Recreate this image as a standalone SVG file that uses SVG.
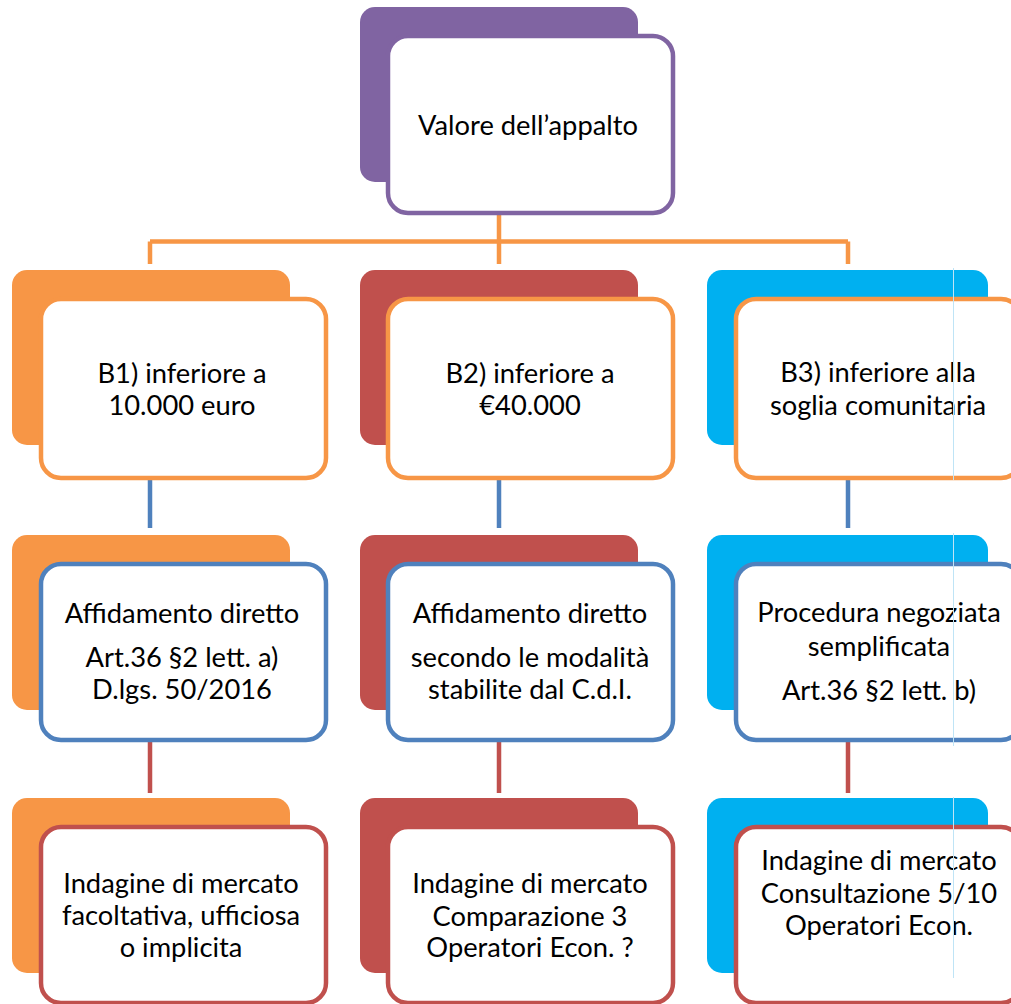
<svg xmlns="http://www.w3.org/2000/svg" width="1011" height="1004" viewBox="0 0 1011 1004">
<style>
.back{stroke:none}
.front{fill:#fff;stroke-width:4.5}
.t{font-family:Lato,"Liberation Sans",sans-serif;font-size:27.3px;fill:#000;text-anchor:middle}
.c{fill:none;stroke-width:4.5}
</style>
<rect width="1011" height="1004" fill="#fff"/>
<g id="connectors">
<path class="c" stroke="#F79646" d="M499 214V264M150 241.5H848M150 241.5V264M848 241.5V264"/>
<path class="c" stroke="#4F81BD" d="M150 478V528M499 478V528M848 478V528"/>
<path class="c" stroke="#C0504D" d="M150 741V793M499 741V793M848 741V793"/>
</g>
<g id="n0">
<rect class="back" x="360" y="7" width="278" height="175" rx="15" fill="#8064A2"/>
<rect class="front" x="388" y="36" width="285" height="177" rx="20" stroke="#8064A2"/>
<text class="t" x="528" y="135">Valore dell’appalto</text>
</g>
<g id="b1">
<rect class="back" x="12" y="270" width="278" height="175" rx="15" fill="#F79646"/>
<rect class="front" x="41" y="299" width="285" height="179" rx="20" stroke="#F79646"/>
<text class="t" x="182" y="383">B1) inferiore a</text>
<text class="t" x="182" y="415">10.000 euro</text>
</g>
<g id="b2">
<rect class="back" x="360" y="270" width="278" height="175" rx="15" fill="#C0504D"/>
<rect class="front" x="388" y="299" width="285" height="179" rx="20" stroke="#F79646"/>
<text class="t" x="530" y="383">B2) inferiore a</text>
<text class="t" x="530" y="415">€40.000</text>
</g>
<g id="b3">
<rect class="back" x="707" y="270" width="281" height="175" rx="15" fill="#00B0F0"/>
<rect class="front" x="736" y="299" width="285" height="179" rx="20" stroke="#F79646"/>
<text class="t" x="878" y="382">B3) inferiore alla</text>
<text class="t" x="878" y="415">soglia comunitaria</text>
</g>
<g id="a1">
<rect class="back" x="12" y="535" width="278" height="175" rx="15" fill="#F79646"/>
<rect class="front" x="41" y="564" width="285" height="176" rx="20" stroke="#4F81BD"/>
<text class="t" x="182" y="623">Affidamento diretto</text>
<text class="t" x="182" y="667">Art.36 §2 lett. a)</text>
<text class="t" x="182" y="699">D.lgs. 50/2016</text>
</g>
<g id="a2">
<rect class="back" x="360" y="535" width="278" height="175" rx="15" fill="#C0504D"/>
<rect class="front" x="388" y="564" width="285" height="176" rx="20" stroke="#4F81BD"/>
<text class="t" x="530" y="623">Affidamento diretto</text>
<text class="t" x="530" y="667">secondo le modalità</text>
<text class="t" x="530" y="699">stabilite dal C.d.I.</text>
</g>
<g id="a3">
<rect class="back" x="707" y="535" width="281" height="175" rx="15" fill="#00B0F0"/>
<rect class="front" x="736" y="564" width="285" height="176" rx="20" stroke="#4F81BD"/>
<text class="t" x="879" y="622">Procedura negoziata</text>
<text class="t" x="879" y="656">semplificata</text>
<text class="t" x="879" y="700">Art.36 §2 lett. b)</text>
</g>
<g id="i1">
<rect class="back" x="12" y="798" width="278" height="175" rx="15" fill="#F79646"/>
<rect class="front" x="41" y="827" width="285" height="176" rx="20" stroke="#C0504D"/>
<text class="t" x="181" y="893">Indagine di mercato</text>
<text class="t" x="181" y="925">facoltativa, ufficiosa</text>
<text class="t" x="181" y="957">o implicita</text>
</g>
<g id="i2">
<rect class="back" x="360" y="798" width="278" height="175" rx="15" fill="#C0504D"/>
<rect class="front" x="388" y="827" width="285" height="176" rx="20" stroke="#C0504D"/>
<text class="t" x="530" y="893">Indagine di mercato</text>
<text class="t" x="530" y="926">Comparazione 3</text>
<text class="t" x="530" y="957">Operatori Econ. ?</text>
</g>
<g id="i3">
<rect class="back" x="707" y="798" width="281" height="175" rx="15" fill="#00B0F0"/>
<rect class="front" x="736" y="827" width="285" height="176" rx="20" stroke="#C0504D"/>
<text class="t" x="879" y="870">Indagine di mercato</text>
<text class="t" x="879" y="903">Consultazione 5/10</text>
<text class="t" x="879" y="935">Operatori Econ.</text>
</g>
<path d="M953.5 268V480M953.5 533V746M953.5 797V978" stroke="#BFE4F6" stroke-width="1" fill="none"/>
</svg>
